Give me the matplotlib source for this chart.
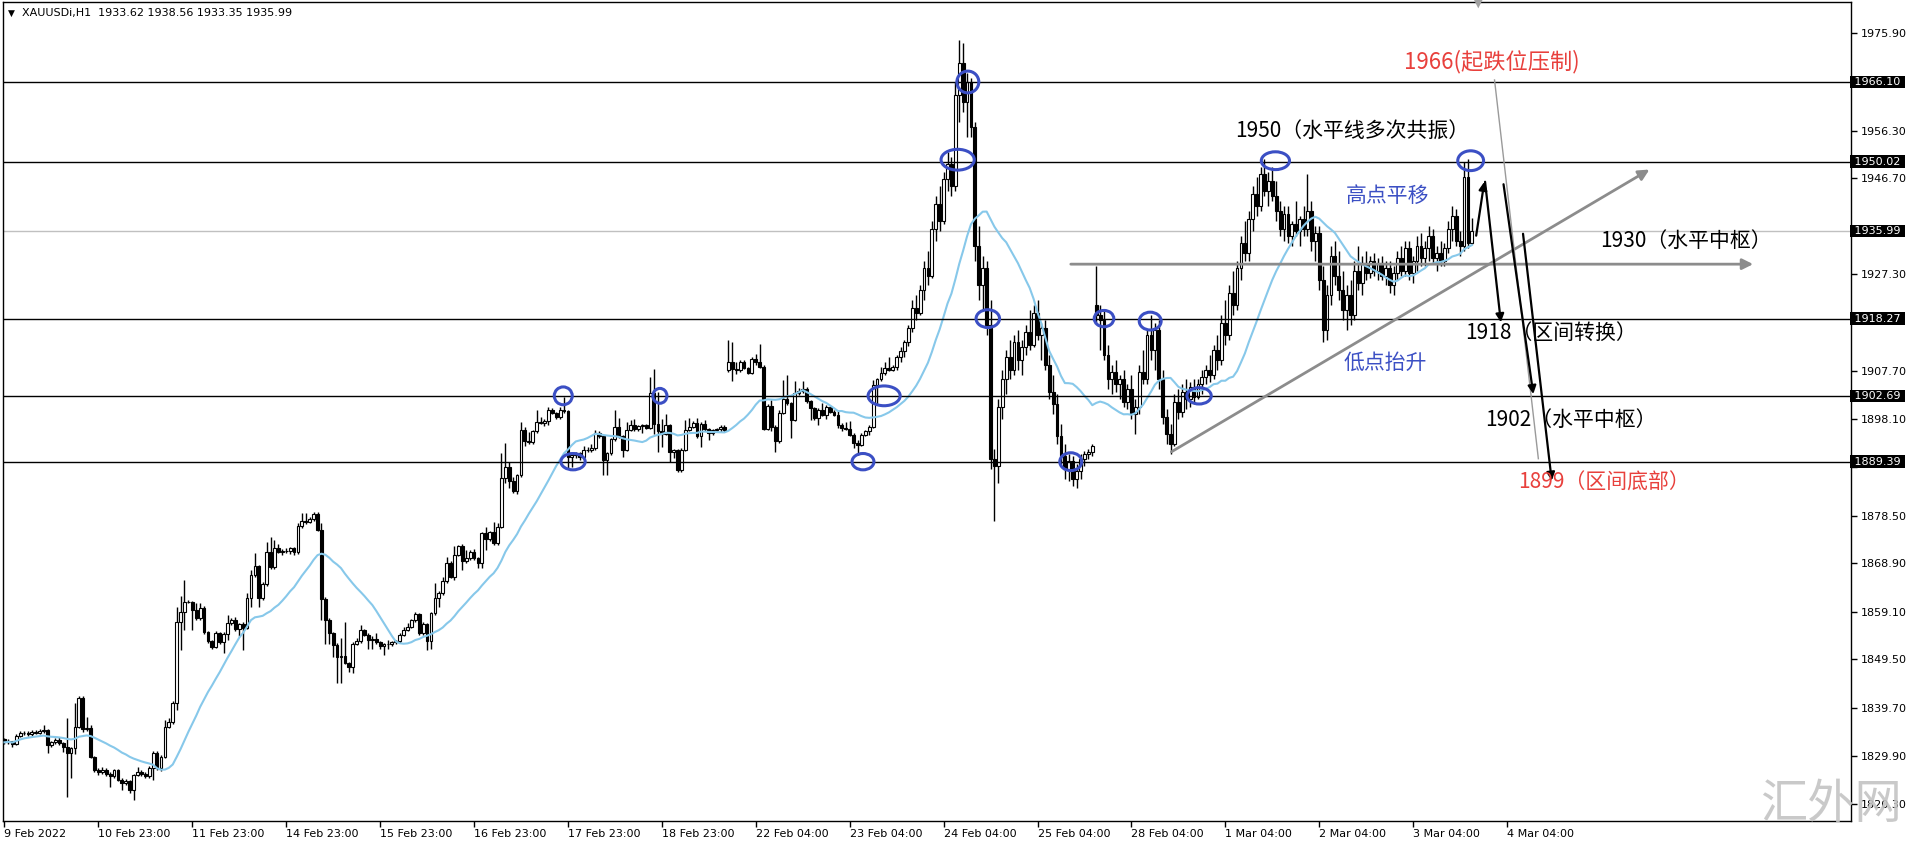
import matplotlib
matplotlib.use('Agg')
import matplotlib.pyplot as plt
from matplotlib.patches import Ellipse
import matplotlib.transforms as mtransforms
import numpy as np
import pandas as pd

# ---------------- data (XAUUSDi H1) ----------------
opens = [
 1833.3,1832.7,1832.9,1832.4,1833.9,1834.5,1834.6,1834.4,1834.7,1834.6,
 1834.9,1835.1,1832.2,1832.8,1833.2,1832.5,1831.8,1830.5,1831.5,1835.9,
 1841.6,1835.3,1835.6,1829.8,1827.1,1826.8,1827.2,1826.4,1825.8,1827.1,
 1825.1,1824.4,1824.8,1823.1,1826.1,1826.8,1826.3,1825.8,1827.6,1830.5,
 1827.5,1829.8,1835.9,1836.9,1840.6,1857.1,1859.1,1861.1,1861.0,1859.5,
 1857.8,1859.8,1854.9,1853.1,1851.9,1854.7,1852.9,1854.6,1856.8,1857.4,
 1855.5,1856.6,1855.8,1861.8,1866.5,1868.3,1861.8,1864.6,1871.2,1868.1,
 1871.9,1871.2,1871.4,1871.3,1871.9,1871.1,1876.4,1877.5,1877.3,1877.8,
 1878.9,1875.6,1861.6,1857.4,1854.7,1852.4,1850.0,1850.2,1848.8,1848.0,
 1852.6,1853.1,1855.3,1854.4,1853.4,1853.5,1852.9,1852.2,1852.5,1852.6,
 1852.9,1853.1,1854.4,1855.4,1856.1,1857.4,1858.6,1854.7,1856.6,1853.1,
 1858.8,1861.8,1862.8,1865.2,1869.0,1866.2,1870.6,1872.4,1869.4,1869.9,
 1871.2,1869.9,1868.9,1874.9,1873.7,1875.1,1872.9,1876.3,1886.1,1888.3,
 1885.4,1883.4,1886.7,1895.8,1893.5,1893.3,1895.5,1897.5,1897.2,1897.6,
 1899.9,1899.3,1898.4,1899.9,1899.6,1890.4,1890.8,1891.1,1890.3,1891.8,
 1891.7,1892.1,1895.1,1894.5,1889.8,1891.1,1893.9,1896.4,1894.5,1891.8,
 1895.8,1896.8,1895.9,1896.6,1896.8,1896.3,1903.2,1897.0,1895.5,1895.0,
 1896.8,1891.4,1891.7,1887.7,1891.8,1895.8,1896.5,1897.3,1894.5,1897.1,
 1895.9,1895.1,1895.8,1895.9,1896.5,1907.9,1909.6,1908.1,1907.9,1909.5,
 1908.3,1907.4,1910.1,1909.6,1908.6,1896.1,1900.7,1896.5,1893.5,1899.3,
 1902.0,1901.2,1897.9,1903.2,1903.6,1904.1,1901.6,1900.2,1898.2,1899.9,
 1898.9,1900.4,1899.5,1898.9,1896.8,1896.2,1896.1,1894.8,1893.1,1892.8,
 1894.8,1895.5,1896.5,1904.9,1906.0,1907.3,1908.3,1908.0,1908.6,1910.5,
 1911.8,1913.5,1916.5,1920.5,1919.5,1924.0,1928.5,1927.0,1936.5,1941.5,
 1938.0,1946.5,1949.5,1945.0,1963.5,1970.0,1962.0,1966.0,1957.0,1933.0,
 1925.0,1928.5,1917.0,1890.0,1888.5,1900.5,1906.0,1910.5,1908.0,1913.5,
 1910.0,1912.5,1915.5,1913.0,1919.5,1915.0,1916.5,1909.0,1903.5,1901.0,
 1894.5,1890.5,1888.0,1889.5,1886.0,1887.5,1890.0,1891.0,1891.3,1921.0,
 1919.0,1918.0,1911.0,1906.0,1907.5,1905.0,1906.0,1901.5,1904.0,1899.0,
 1900.5,1907.5,1906.0,1915.0,1912.0,1916.0,1906.0,1898.5,1895.0,1893.0,
 1901.5,1899.5,1903.5,1902.0,1904.5,1902.5,1905.0,1906.5,1908.0,1907.0,
 1912.0,1910.0,1917.5,1915.0,1923.5,1921.0,1928.5,1933.5,1931.5,1938.5,
 1943.5,1941.0,1947.5,1944.0,1946.0,1943.0,1940.0,1936.5,1939.5,1935.0,
 1937.5,1936.0,1938.5,1936.5,1940.0,1934.0,1935.5,1926.0,1916.0,1923.0,
 1931.0,1927.0,1924.0,1920.0,1923.0,1919.0,1928.0,1925.5,1929.5,1927.5,
 1930.0,1928.0,1929.5,1927.0,1928.5,1925.0,1927.5,1930.5,1928.0,1932.5,
 1927.5,1930.0,1933.0,1930.5,1932.5,1935.0,1930.5,1931.5,1930.0,1932.5,
 1936.5,1939.0,1934.0,1933.0,1947.0,1933.62]
highs = [
 1833.6,1833.3,1833.0,1834.4,1834.9,1835.0,1835.0,1835.1,1835.2,1835.4,
 1836.2,1835.3,1833.0,1833.6,1833.8,1832.8,1837.6,1831.8,1840.7,1842.1,
 1842.0,1837.9,1836.2,1830.0,1827.6,1827.8,1827.5,1826.7,1827.4,1827.3,
 1825.4,1825.2,1825.0,1826.4,1827.8,1827.2,1826.8,1828.0,1830.9,1831.0,
 1830.2,1837.2,1837.6,1841.1,1860.1,1862.3,1865.5,1861.4,1861.2,1860.8,
 1860.8,1860.2,1855.2,1853.4,1855.1,1855.0,1854.9,1858.4,1857.8,1858.1,
 1856.9,1857.0,1862.8,1867.5,1871.0,1868.6,1865.0,1873.1,1874.1,1873.6,
 1872.8,1871.8,1872.0,1872.2,1872.2,1877.0,1879.0,1879.0,1878.2,1879.3,
 1879.2,1877.0,1862.0,1857.8,1855.0,1852.8,1853.7,1857.1,1849.0,1852.9,
 1853.7,1856.4,1855.6,1854.7,1854.1,1854.7,1853.2,1852.8,1853.4,1853.2,
 1853.4,1854.7,1855.9,1856.9,1857.7,1859.1,1858.9,1857.0,1856.9,1859.1,
 1864.8,1863.2,1866.2,1870.2,1869.3,1872.4,1872.6,1872.7,1871.5,1871.6,
 1871.7,1870.1,1875.2,1876.3,1875.4,1877.3,1877.1,1891.1,1893.1,1889.4,
 1886.4,1887.0,1897.5,1896.4,1895.4,1895.8,1899.9,1898.4,1898.0,1900.5,
 1900.3,1899.5,1900.5,1902.4,1899.9,1891.1,1891.4,1891.4,1892.6,1892.3,
 1893.0,1895.8,1895.5,1894.8,1891.4,1894.2,1899.9,1898.2,1894.8,1897.5,
 1897.8,1898.0,1896.9,1897.0,1897.0,1906.6,1908.1,1903.5,1898.0,1899.0,
 1897.1,1892.0,1892.0,1892.1,1897.8,1898.2,1897.6,1898.2,1897.4,1897.8,
 1896.2,1896.1,1896.2,1896.8,1896.8,1914.0,1913.6,1909.6,1910.0,1910.0,
 1908.5,1910.6,1911.2,1913.2,1908.9,1901.0,1901.9,1896.8,1899.9,1905.9,
 1906.9,1901.5,1905.6,1904.2,1905.6,1904.4,1901.9,1900.5,1900.2,1901.2,
 1900.9,1900.7,1899.8,1899.9,1897.2,1897.4,1897.6,1895.1,1893.8,1895.1,
 1895.8,1896.8,1905.9,1906.3,1908.6,1909.6,1910.5,1909.0,1911.0,1912.5,
 1914.0,1917.0,1922.0,1923.0,1925.0,1930.0,1932.0,1938.0,1943.0,1945.0,
 1948.0,1952.0,1951.0,1966.0,1974.5,1974.0,1968.0,1967.0,1958.0,1937.0,
 1931.0,1930.0,1922.0,1892.0,1902.0,1908.0,1912.0,1914.0,1915.0,1916.0,
 1914.0,1917.0,1920.0,1921.0,1922.0,1917.5,1918.0,1911.0,1907.0,1903.0,
 1897.0,1893.0,1891.0,1890.5,1889.0,1891.0,1891.5,1892.0,1893.0,1929.0,
 1921.0,1920.0,1913.0,1909.0,1910.0,1907.0,1908.0,1905.0,1907.0,1902.0,
 1909.0,1912.0,1916.0,1919.0,1917.5,1918.0,1908.0,1900.0,1897.0,1903.0,
 1904.0,1905.0,1906.0,1905.5,1906.0,1906.0,1908.0,1909.0,1911.0,1913.0,
 1915.0,1919.0,1922.0,1925.0,1928.0,1930.0,1935.0,1938.0,1940.0,1945.0,
 1947.0,1949.0,1950.5,1948.0,1949.0,1946.0,1942.0,1941.0,1941.0,1938.0,
 1942.0,1939.0,1941.0,1947.5,1942.0,1937.0,1937.0,1929.0,1925.0,1933.0,
 1934.0,1932.0,1928.0,1925.0,1926.0,1930.0,1933.0,1931.0,1932.0,1931.0,
 1931.5,1930.5,1931.0,1930.0,1930.0,1929.0,1932.0,1933.0,1934.0,1934.0,
 1931.0,1935.0,1935.5,1934.0,1937.0,1936.5,1933.0,1934.0,1933.5,1938.0,
 1941.0,1940.5,1936.0,1950.0,1950.5,1938.56]
lows = [
 1832.3,1832.4,1831.8,1832.2,1833.7,1834.1,1834.0,1834.0,1834.3,1834.3,
 1834.5,1830.5,1831.8,1832.4,1832.2,1830.8,1821.6,1825.4,1830.3,1835.5,
 1834.8,1834.9,1829.5,1826.8,1826.1,1826.3,1826.0,1823.7,1825.5,1824.8,
 1823.1,1824.0,1822.4,1821.1,1825.8,1825.9,1825.5,1825.5,1825.1,1827.1,
 1827.0,1829.5,1835.5,1836.5,1839.3,1851.4,1855.4,1860.8,1855.4,1857.5,
 1857.5,1854.6,1852.8,1851.5,1851.7,1852.6,1850.8,1853.4,1856.5,1855.2,
 1854.1,1851.4,1855.5,1860.1,1866.2,1860.1,1861.5,1864.3,1867.8,1867.8,
 1870.9,1870.6,1870.9,1870.8,1870.5,1870.8,1876.1,1876.9,1877.0,1877.5,
 1875.3,1857.4,1852.6,1852.6,1850.0,1844.6,1844.6,1848.5,1847.0,1846.7,
 1852.3,1852.8,1854.1,1851.5,1851.5,1852.6,1851.5,1850.4,1851.5,1852.2,
 1852.5,1852.7,1854.1,1855.1,1855.8,1857.1,1854.4,1854.4,1851.4,1851.5,
 1858.5,1860.1,1862.5,1864.9,1865.9,1865.5,1870.3,1867.5,1869.0,1869.5,
 1869.6,1867.9,1867.9,1871.6,1873.4,1872.6,1872.6,1876.0,1885.0,1884.0,
 1883.1,1882.9,1886.4,1892.6,1893.0,1893.0,1895.2,1897.0,1896.6,1896.9,
 1899.1,1898.1,1898.1,1899.3,1888.1,1888.4,1890.2,1889.7,1890.0,1891.4,
 1891.4,1891.8,1894.2,1886.7,1886.7,1890.8,1893.6,1894.2,1890.4,1891.5,
 1895.5,1895.6,1895.6,1895.1,1896.0,1896.0,1895.0,1891.4,1892.4,1894.7,
 1889.4,1890.1,1887.4,1887.4,1891.5,1895.5,1896.2,1894.2,1892.4,1895.6,
 1893.8,1894.8,1895.5,1895.4,1895.4,1907.6,1905.6,1907.2,1907.6,1908.1,
 1907.2,1907.1,1909.0,1908.3,1895.8,1895.8,1895.5,1891.3,1893.2,1899.0,
 1900.9,1894.2,1897.6,1902.8,1903.3,1901.3,1897.9,1897.9,1896.8,1898.6,
 1898.0,1899.2,1898.6,1896.2,1895.5,1895.8,1894.5,1892.1,1890.8,1892.5,
 1894.5,1894.8,1896.2,1900.9,1905.7,1907.0,1907.7,1907.7,1908.0,1909.5,
 1910.5,1912.8,1915.5,1918.0,1919.0,1922.0,1925.0,1926.5,1934.0,1936.0,
 1937.5,1944.0,1943.0,1944.0,1958.0,1960.0,1955.0,1955.0,1930.0,1922.0,
 1920.0,1915.0,1888.0,1877.5,1885.0,1898.0,1903.0,1906.0,1907.0,1908.0,
 1907.0,1911.0,1912.0,1912.5,1914.0,1910.0,1908.0,1902.0,1899.0,1893.0,
 1889.0,1886.0,1885.5,1884.5,1884.0,1886.0,1888.5,1890.0,1890.5,1917.5,
 1912.0,1910.0,1904.0,1903.0,1903.5,1902.0,1900.5,1900.0,1898.0,1895.0,
 1899.0,1905.0,1905.0,1910.0,1908.0,1904.0,1897.0,1893.0,1891.0,1892.5,
 1898.0,1898.5,1900.0,1900.5,1901.0,1902.0,1903.0,1905.0,1905.5,1906.0,
 1908.0,1909.0,1913.0,1914.0,1919.0,1920.0,1926.0,1930.0,1930.0,1936.0,
 1939.0,1940.0,1943.0,1941.0,1942.0,1938.0,1935.0,1934.0,1933.5,1933.0,
 1935.0,1933.0,1935.0,1935.0,1932.0,1930.0,1924.0,1913.5,1914.0,1921.0,
 1925.0,1922.0,1918.0,1916.0,1917.0,1918.0,1924.0,1923.0,1926.0,1926.5,
 1927.0,1926.0,1926.0,1925.0,1923.5,1923.0,1926.0,1927.0,1927.0,1926.0,
 1925.5,1928.0,1929.0,1929.0,1930.0,1929.5,1928.0,1929.0,1929.0,1931.5,
 1934.0,1933.0,1931.0,1932.0,1932.5,1933.35]
closes = [
 1832.7,1832.9,1832.4,1833.9,1834.5,1834.6,1834.4,1834.7,1834.6,1834.9,
 1835.1,1832.2,1832.8,1833.2,1832.5,1831.8,1830.5,1831.5,1835.9,1841.6,
 1835.3,1835.6,1829.8,1827.1,1826.8,1827.2,1826.4,1825.8,1827.1,1825.1,
 1824.4,1824.8,1823.1,1826.1,1826.8,1826.3,1825.8,1827.6,1830.5,1827.5,
 1829.8,1835.9,1836.9,1840.6,1857.1,1859.1,1861.1,1861.0,1859.5,1857.8,
 1859.8,1854.9,1853.1,1851.9,1854.7,1852.9,1854.6,1856.8,1857.4,1855.5,
 1856.6,1855.8,1861.8,1866.5,1868.3,1861.8,1864.6,1871.2,1868.1,1871.9,
 1871.2,1871.4,1871.3,1871.9,1871.1,1876.4,1877.5,1877.3,1877.8,1878.9,
 1875.6,1861.6,1857.4,1854.7,1852.4,1850.0,1850.2,1848.8,1848.0,1852.6,
 1853.1,1855.3,1854.4,1853.4,1853.5,1852.9,1852.2,1852.5,1852.6,1852.9,
 1853.1,1854.4,1855.4,1856.1,1857.4,1858.6,1854.7,1856.6,1853.1,1858.8,
 1861.8,1862.8,1865.2,1869.0,1866.2,1870.6,1872.4,1869.4,1869.9,1871.2,
 1869.9,1868.9,1874.9,1873.7,1875.1,1872.9,1876.3,1886.1,1888.3,1885.4,
 1883.4,1886.7,1895.8,1893.5,1893.3,1895.5,1897.5,1897.2,1897.6,1899.9,
 1899.3,1898.4,1899.9,1899.6,1890.4,1890.8,1891.1,1890.3,1891.8,1891.7,
 1892.1,1895.1,1894.5,1889.8,1891.1,1893.9,1896.4,1894.5,1891.8,1895.8,
 1896.8,1895.9,1896.6,1896.8,1896.3,1903.2,1897.0,1895.5,1895.0,1896.8,
 1891.4,1891.7,1887.7,1891.8,1895.8,1896.5,1897.3,1894.5,1897.1,1895.9,
 1895.1,1895.8,1895.9,1896.5,1895.7,1909.6,1908.1,1907.9,1909.5,1908.3,
 1907.4,1910.1,1909.6,1908.6,1896.1,1900.7,1896.5,1893.5,1899.3,1902.0,
 1901.2,1897.9,1903.2,1903.6,1904.1,1901.6,1900.2,1898.2,1899.9,1898.9,
 1900.4,1899.5,1898.9,1896.8,1896.2,1896.1,1894.8,1893.1,1892.8,1894.8,
 1895.5,1896.5,1904.9,1906.0,1907.3,1908.3,1908.0,1908.6,1910.5,1911.8,
 1913.5,1916.5,1920.5,1919.5,1924.0,1928.5,1927.0,1936.5,1941.5,1938.0,
 1946.5,1949.5,1945.0,1963.5,1970.0,1962.0,1966.0,1957.0,1933.0,1925.0,
 1928.5,1917.0,1890.0,1888.5,1900.5,1906.0,1910.5,1908.0,1913.5,1910.0,
 1912.5,1915.5,1913.0,1919.5,1915.0,1916.5,1909.0,1903.5,1901.0,1894.5,
 1890.5,1888.0,1889.5,1886.0,1887.5,1890.0,1891.0,1891.3,1892.5,1919.0,
 1918.0,1911.0,1906.0,1907.5,1905.0,1906.0,1901.5,1904.0,1899.0,1900.5,
 1907.5,1906.0,1915.0,1912.0,1916.0,1906.0,1898.5,1895.0,1893.0,1901.5,
 1899.5,1903.5,1902.0,1904.5,1902.5,1905.0,1906.5,1908.0,1907.0,1912.0,
 1910.0,1917.5,1915.0,1923.5,1921.0,1928.5,1933.5,1931.5,1938.5,1943.5,
 1941.0,1947.5,1944.0,1946.0,1943.0,1940.0,1936.5,1939.5,1935.0,1937.5,
 1936.0,1938.5,1936.5,1940.0,1934.0,1935.5,1926.0,1916.0,1923.0,1931.0,
 1927.0,1924.0,1920.0,1923.0,1919.0,1928.0,1925.5,1929.5,1927.5,1930.0,
 1928.0,1929.5,1927.0,1928.5,1925.0,1927.5,1930.5,1928.0,1932.5,1927.5,
 1930.0,1933.0,1930.5,1932.5,1935.0,1930.5,1931.5,1930.0,1932.5,1936.5,
 1939.0,1934.0,1933.0,1947.0,1933.6,1935.99]

level_lines = [1966.10, 1950.02, 1918.27, 1902.69, 1889.39]
last_price = 1935.99
price_ticks = [1975.90, 1966.10, 1956.30, 1946.70, 1936.90, 1927.30, 1917.50,
               1907.70, 1898.10, 1888.30, 1878.50, 1868.90, 1859.10, 1849.50,
               1839.70, 1829.90, 1820.30]
date_labels = ['9 Feb 2022', '10 Feb 23:00', '11 Feb 23:00', '14 Feb 23:00',
               '15 Feb 23:00', '16 Feb 23:00', '17 Feb 23:00', '18 Feb 23:00',
               '22 Feb 04:00', '23 Feb 04:00', '24 Feb 04:00', '25 Feb 04:00',
               '28 Feb 04:00', '1 Mar 04:00', '2 Mar 04:00', '3 Mar 04:00',
               '4 Mar 04:00']
bars_per_label = 24
ma_period = 20
title = 'XAUUSDi,H1  1933.62 1938.56 1933.35 1935.99'

# annotation ellipses: (bar, price, width in bars, height in price)
circles = [(246.2, 1966.1, 5.6, 4.4), (243.6, 1950.4, 8.5, 4.2), (251.3, 1918.3, 6.0, 3.6),
           (224.8, 1902.7, 8.2, 4.0), (219.4, 1889.4, 5.6, 3.3), (142.8, 1902.7, 4.6, 3.6),
           (145.3, 1889.4, 6.2, 3.3), (167.5, 1902.7, 3.6, 3.0), (272.5, 1889.4, 5.6, 3.6),
           (281.0, 1918.3, 5.0, 3.3), (292.8, 1917.8, 5.6, 3.6), (305.3, 1902.7, 6.2, 3.3),
           (324.8, 1950.2, 7.2, 3.6), (374.7, 1950.2, 6.6, 4.0)]

BLUE = '#3b4fc4'
RED = '#e8403c'
CJK = ['Noto Sans CJK SC', 'DejaVu Sans']

# ---------------- figure ----------------
W, H = 1919, 843
fig = plt.figure(figsize=(W / 100, H / 100), dpi=100)
fig.patch.set_facecolor('white')
ax = fig.add_axes([3 / W, 1 - 821 / H, (1851 - 3) / W, (821 - 2) / H])
ax.set_facecolor('white')

o = np.array(opens); h = np.array(highs); l = np.array(lows); c = np.array(closes)
x = np.arange(len(c))

ax.vlines(x, l, h, color='black', lw=1.0, zorder=2)
bull = c >= o
body_h = np.maximum(np.abs(c - o), 0.12)
ax.bar(x, body_h, bottom=np.minimum(o, c), width=0.72,
       color=np.where(bull, 'white', 'black'), edgecolor='black', linewidth=0.8, zorder=3)

ma = pd.Series(c).rolling(ma_period, min_periods=1).mean()
ax.plot(x, ma, color='#87c8ea', lw=1.5, zorder=4)

for lv in level_lines:
    ax.axhline(lv, color='black', lw=1.0, zorder=5)
ax.axhline(last_price, color='#c0c0c0', lw=1.0, zorder=1)

ax.set_xlim(-0.38, 471.9)
ax.set_ylim(1816.81, 1982.26)

# axes styling
for sp in ax.spines.values():
    sp.set_color('black'); sp.set_linewidth(1.0)
ax.yaxis.tick_right()
hidden = set(level_lines) | {1936.90, 1917.50, 1888.30}
ax.set_yticks(price_ticks)
ax.set_yticklabels(['' if any(abs(t - hv) < 0.9 for hv in hidden) else f'{t:.2f}' for t in price_ticks])
ax.set_xticks([k * bars_per_label for k in range(len(date_labels))])
ax.set_xticklabels(date_labels, ha='left')
ax.tick_params(axis='both', direction='out', length=4, width=1, labelsize=8, colors='black', pad=2)
ax.tick_params(axis='y', pad=3)

# highlighted price labels
trans_y = mtransforms.blended_transform_factory(ax.transAxes, ax.transData)
for lv in level_lines + [last_price]:
    ax.text(1.0, lv, f' {lv:.2f} ', transform=trans_y, ha='left', va='center', fontsize=8,
            color='white', clip_on=False, zorder=10,
            bbox=dict(boxstyle='square,pad=0.12', fc='black', ec='none'))

# ellipses
for bx, py, bw, ph in circles:
    ax.add_patch(Ellipse((bx, py), bw, ph, fill=False, ec=BLUE, lw=2.2, zorder=7))

# trend / level arrows
ax.annotate('', xy=(421.0, 1948.7), xytext=(297.6, 1891.1),
            arrowprops=dict(arrowstyle='-|>', color='#8c8c8c', lw=2.0, mutation_scale=16), zorder=6)
ax.annotate('', xy=(447.6, 1929.3), xytext=(271.8, 1929.3),
            arrowprops=dict(arrowstyle='-|>', color='#8c8c8c', lw=2.0, mutation_scale=16), zorder=6)
# black forecast arrows
ax.annotate('', xy=(378.3, 1946.5), xytext=(376.0, 1934.5),
            arrowprops=dict(arrowstyle='-|>', color='black', lw=1.6, mutation_scale=12), zorder=8)
ax.annotate('', xy=(382.5, 1917.0), xytext=(378.3, 1946.5),
            arrowprops=dict(arrowstyle='-|>', color='black', lw=1.6, mutation_scale=12), zorder=8)
ax.annotate('', xy=(390.8, 1902.5), xytext=(383.0, 1946.0),
            arrowprops=dict(arrowstyle='-|>', color='black', lw=1.6, mutation_scale=12), zorder=8)
ax.annotate('', xy=(395.5, 1885.0), xytext=(388.0, 1936.0),
            arrowprops=dict(arrowstyle='-|>', color='black', lw=1.6, mutation_scale=12), zorder=8)
ax.plot([380.8, 392.0], [1966.5, 1890.0], color='#9a9a9a', lw=1.0, zorder=6)

# texts
ax.text(357.6, 1970.3, '1966(起跌位压制)', color=RED, fontsize=16, family=CJK, va='center', ha='left', zorder=9)
ax.text(314.5, 1956.2, '1950（水平线多次共振）', color='black', fontsize=15, family=CJK, va='center', ha='left', zorder=9)
ax.text(342.8, 1943.1, '高点平移', color=BLUE, fontsize=15, family=CJK, va='center', ha='left', zorder=9)
ax.text(407.7, 1934.0, '1930（水平中枢）', color='black', fontsize=15, family=CJK, va='center', ha='left', zorder=9)
ax.text(373.2, 1915.4, '1918（区间转换）', color='black', fontsize=15, family=CJK, va='center', ha='left', zorder=9)
ax.text(342.1, 1909.3, '低点抬升', color=BLUE, fontsize=15, family=CJK, va='center', ha='left', zorder=9)
ax.text(378.3, 1897.8, '1902（水平中枢）', color='black', fontsize=15, family=CJK, va='center', ha='left', zorder=9)
ax.text(386.8, 1885.1, '1899（区间底部）', color=RED, fontsize=15, family=CJK, va='center', ha='left', zorder=9)

# header
fig.text(8 / W, 1 - 13 / H, '▼', fontsize=6.5, va='center', ha='left', color='black')
fig.text(22 / W, 1 - 13 / H, title, fontsize=8, va='center', ha='left', color='black')
fig.text(1478 / W, 1 - 4 / H, '▼', fontsize=8, va='center', ha='center', color='#a0a0a0')
# watermark (semi-transparent, sits over the lowest price label as in the original)
fig.text(1760 / W, 1 - 805 / H, '汇外网', fontsize=34, family=CJK, color='#c4c4c4',
         va='center', ha='left', fontweight='light', alpha=0.9, zorder=0)

fig.savefig('out.png', dpi=100, facecolor='white')
